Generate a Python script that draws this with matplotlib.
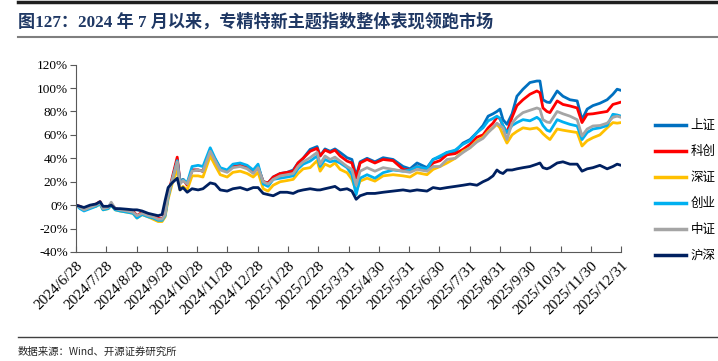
import matplotlib.pyplot as plt
from matplotlib.lines import Line2D

plt.rcParams['font.family'] = ['Liberation Serif', 'Noto Sans CJK SC']

# x position in "months since 2024/6/28" (tick i = i-th label below)
month_pos = [0.00, 0.13, 0.26, 0.46, 0.66, 0.79, 0.89, 1.06, 1.16, 1.29,
             1.45, 1.68, 1.88, 2.01, 2.18, 2.38, 2.54, 2.71, 2.84, 2.94,
             3.04, 3.17, 3.34, 3.43, 3.53, 3.67, 3.83, 4.03, 4.19, 4.43,
             4.59, 4.76, 4.99, 5.18, 5.42, 5.65, 5.85, 6.01, 6.18, 6.34,
             6.51, 6.74, 6.97, 7.17, 7.33, 7.50, 7.73, 7.96, 8.06, 8.22,
             8.39, 8.55, 8.72, 8.95, 9.11, 9.25, 9.38, 9.61, 9.87, 10.14,
             10.47, 10.80, 11.03, 11.26, 11.59, 11.79, 12.02, 12.25, 12.52, 12.78,
             13.01, 13.24, 13.44, 13.61, 13.77, 13.90, 14.00, 14.10, 14.23, 14.40,
             14.56, 14.76, 14.99, 15.22, 15.32, 15.42, 15.55, 15.65, 15.89, 16.08,
             16.31, 16.55, 16.71, 16.88, 17.07, 17.30, 17.54, 17.73, 17.87, 18.00]

date_labels = ['2024/6/28', '2024/7/28', '2024/8/28', '2024/9/28', '2024/10/28',
               '2024/11/28', '2024/12/28', '2025/1/28', '2025/2/28', '2025/3/31',
               '2025/4/30', '2025/5/31', '2025/6/30', '2025/7/31', '2025/8/31',
               '2025/9/30', '2025/10/31', '2025/11/30', '2025/12/31']

# cumulative returns, %
sh_sx = [0, -2, -4, -2, 0, 2, -3, -2, 1, -3, -4, -5, -6, -9, -7, -9, -10, -12, -12, -8, 8, 21,
         39, 20, 22, 18, 30, 30, 29, 46, 39, 31, 29, 33, 34, 32, 28, 33, 20, 19, 24, 27, 28, 30,
         36, 40, 47.6, 50, 42, 48, 46, 48, 45, 40.5, 39, 25, 37, 40, 37, 40.5, 39, 33, 31, 36, 32,
         39, 41, 45, 46, 53, 56, 62, 68, 76, 78, 80, 82, 73, 69, 78, 93, 99, 104.7, 106, 106, 90,
         88, 87.6, 97.5, 93, 90, 89, 73, 82, 85, 87, 90, 94.7, 99, 98]
kc_sx = [0, -1, -3, -1, 1, 3, -2, -2, 1, -3, -4, -4, -5, -9, -6, -8, -9, -11, -12, -7, 9, 23,
         41, 20, 22, 17, 30, 30, 29, 45, 39, 31, 29, 33, 34, 32, 28, 32, 20, 19, 24, 27, 28, 29,
         36, 40, 46, 48.5, 42, 47, 45, 47, 42, 37.6, 36, 23, 36, 39, 36, 39, 38, 30.5, 30, 33, 30.5,
         36, 38, 43, 44, 47.6, 52, 58, 60, 66, 70, 75, 74, 67.6, 62, 75, 85, 90, 94.7, 97.5, 96, 83,
         80, 79, 89, 86, 84.7, 83, 70.5, 77.6, 78, 79, 80, 86, 87, 88]
sz_sx = [0, -2, -4, -2, -1, 1, -4, -3, 0, -4, -5, -6, -7, -11, -8, -10, -12, -14, -14, -10, 5, 18,
         31, 13, 16, 13, 25, 25, 24, 42, 34, 26, 24, 28, 29, 27, 24, 28, 14, 12, 17, 20, 21, 22,
         27, 31, 32, 38, 29, 35, 33, 36, 30.5, 27.7, 22, 12, 20.5, 23, 20.5, 25, 26, 25, 24, 27.7, 26,
         30.5, 33, 36, 40, 46, 49, 55, 58, 63, 66, 69, 66, 60, 53, 60, 63, 66, 65, 66, 64, 61,
         58, 56, 65, 64, 63, 62, 50.5, 55, 57.6, 60, 66, 70.5, 70, 70.5]
cyb_sx = [0, -3, -5, -3, -1, 1, -4, -3, 0, -4, -5, -6, -7, -11, -8, -10, -11, -13, -13, -9, 7, 21,
          38, 19, 22, 19, 33, 34, 33, 49, 40, 32, 30, 35, 36, 34, 30, 35, 18, 16, 22, 23, 24, 25,
          31, 35, 37.6, 42, 33, 39, 37, 38, 36, 32, 26, 9, 23, 26, 23, 27.7, 30, 29, 30, 33, 31,
          39, 42, 45, 47, 52, 55, 62, 66, 72, 74, 76, 74, 68, 62, 68, 70.5, 73, 72, 75, 73, 68,
          64, 63, 73, 71, 69, 67.6, 56, 62, 65, 66, 68, 77.6, 77, 76]
zz_sx = [0, -2, -4, -2, 0, 2, -3, -2, 2.5, -3, -4, -5, -6, -9, -7, -9, -10, -12, -12, -8, 8, 21,
         37, 18, 21, 18, 29, 30, 29, 46, 38, 30, 28, 32, 33, 31, 27, 32, 20, 18, 22, 25, 26, 27,
         33, 37, 40.5, 45, 35, 42, 39, 41, 37.6, 33, 30.5, 17, 29, 32, 29, 32, 30.5, 29, 28, 30.5, 29,
         33, 33, 39, 40, 45, 49, 54, 57, 62, 66, 70, 68, 66, 56, 70, 75, 79, 81, 83, 82, 73,
         71, 70.5, 80, 78, 76, 73, 59, 65, 67.6, 68, 70, 75, 76, 75]
hs300 = [0, -1, -2, 0, 1, 3, -1, -1, 0, -3, -3, -3.5, -4, -4, -5, -7, -8, -9, -8, 4, 15, 19,
         23, 13, 15, 11, 14, 13, 14, 19, 18, 13, 12, 14, 15, 13, 15, 15, 10, 9, 8, 11, 11, 10,
         12, 13, 14, 13, 13, 14, 15, 16, 13, 14, 12, 5, 8, 10, 10, 11, 12, 13, 12, 13, 12,
         15, 14, 15, 16, 17, 18, 17, 20, 22, 25, 30, 28, 27, 30, 30, 31, 32, 33, 35, 36, 32,
         31, 32, 36, 37, 35, 35, 29, 31, 32, 34, 31, 33, 35, 34]

# legend names as far as they are visible in the source chart (cut at the page edge)
series_names = ['上证', '科创', '深证', '创业', '中证', '沪深']
series_values = [sh_sx, kc_sx, sz_sx, cyb_sx, zz_sx, hs300]
series_colors = ['#0070C0', '#FF0000', '#FFC000', '#00B0F0', '#A5A5A5', '#002060']

fig = plt.figure(figsize=(7.18, 3.61), dpi=100)
ax = fig.add_axes([0.106, 0.302, 0.759, 0.519])

for vals, c in zip(series_values, series_colors):
    ax.plot(month_pos, vals, color=c, lw=2.0, solid_joinstyle='round')

ax.set_xlim(0, 18)
ax.set_ylim(-40, 120)
ax.set_yticks(range(-40, 121, 20))
ax.set_yticklabels([f'{v}%' for v in range(-40, 121, 20)], fontsize=9.5)
ax.set_xticks(range(len(date_labels)))
ax.set_xticklabels(date_labels, rotation=45, ha='right', rotation_mode='anchor', fontsize=11)
ax.tick_params(axis='y', direction='out', length=4, width=0.8, color='#595959', pad=2)
ax.tick_params(axis='x', direction='in', length=4, width=0.8, color='#595959', pad=5)
for s in ['top', 'right']:
    ax.spines[s].set_visible(False)
for s in ['left', 'bottom']:
    ax.spines[s].set_color('#595959')
    ax.spines[s].set_linewidth(0.8)

handles = [Line2D([], [], color=c, lw=2.5) for c in series_colors]
fig.legend(handles, series_names, loc='upper left', bbox_to_anchor=(0.905, 0.684),
           frameon=False, handlelength=2.5, handletextpad=0.35, labelspacing=1.04,
           prop={'family': 'Noto Sans CJK SC', 'size': 9}, borderaxespad=0)

# title block and source line
fig.text(0.025, 0.94, '图127：2024 年 7 月以来，专精特新主题指数整体表现领跑市场',
         fontsize=12.3, fontweight='bold', color='#1F3864', va='center', ha='left',
         family=['Liberation Serif', 'Noto Sans CJK SC'])
fig.add_artist(Line2D([0.025, 1.0], [0.995, 0.995], color='#1F1F1F', lw=2.5))
fig.add_artist(Line2D([0.025, 1.0], [0.898, 0.898], color='#7F7F7F', lw=1.5))
fig.add_artist(Line2D([0.025, 1.0], [0.067, 0.067], color='#404040', lw=1.0))
fig.text(0.025, 0.025, '数据来源：Wind、开源证券研究所', fontsize=7.5, color='#262626',
         va='center', ha='left', family=['Noto Sans CJK SC', 'Liberation Serif'])

fig.savefig('out.png', dpi=100)
